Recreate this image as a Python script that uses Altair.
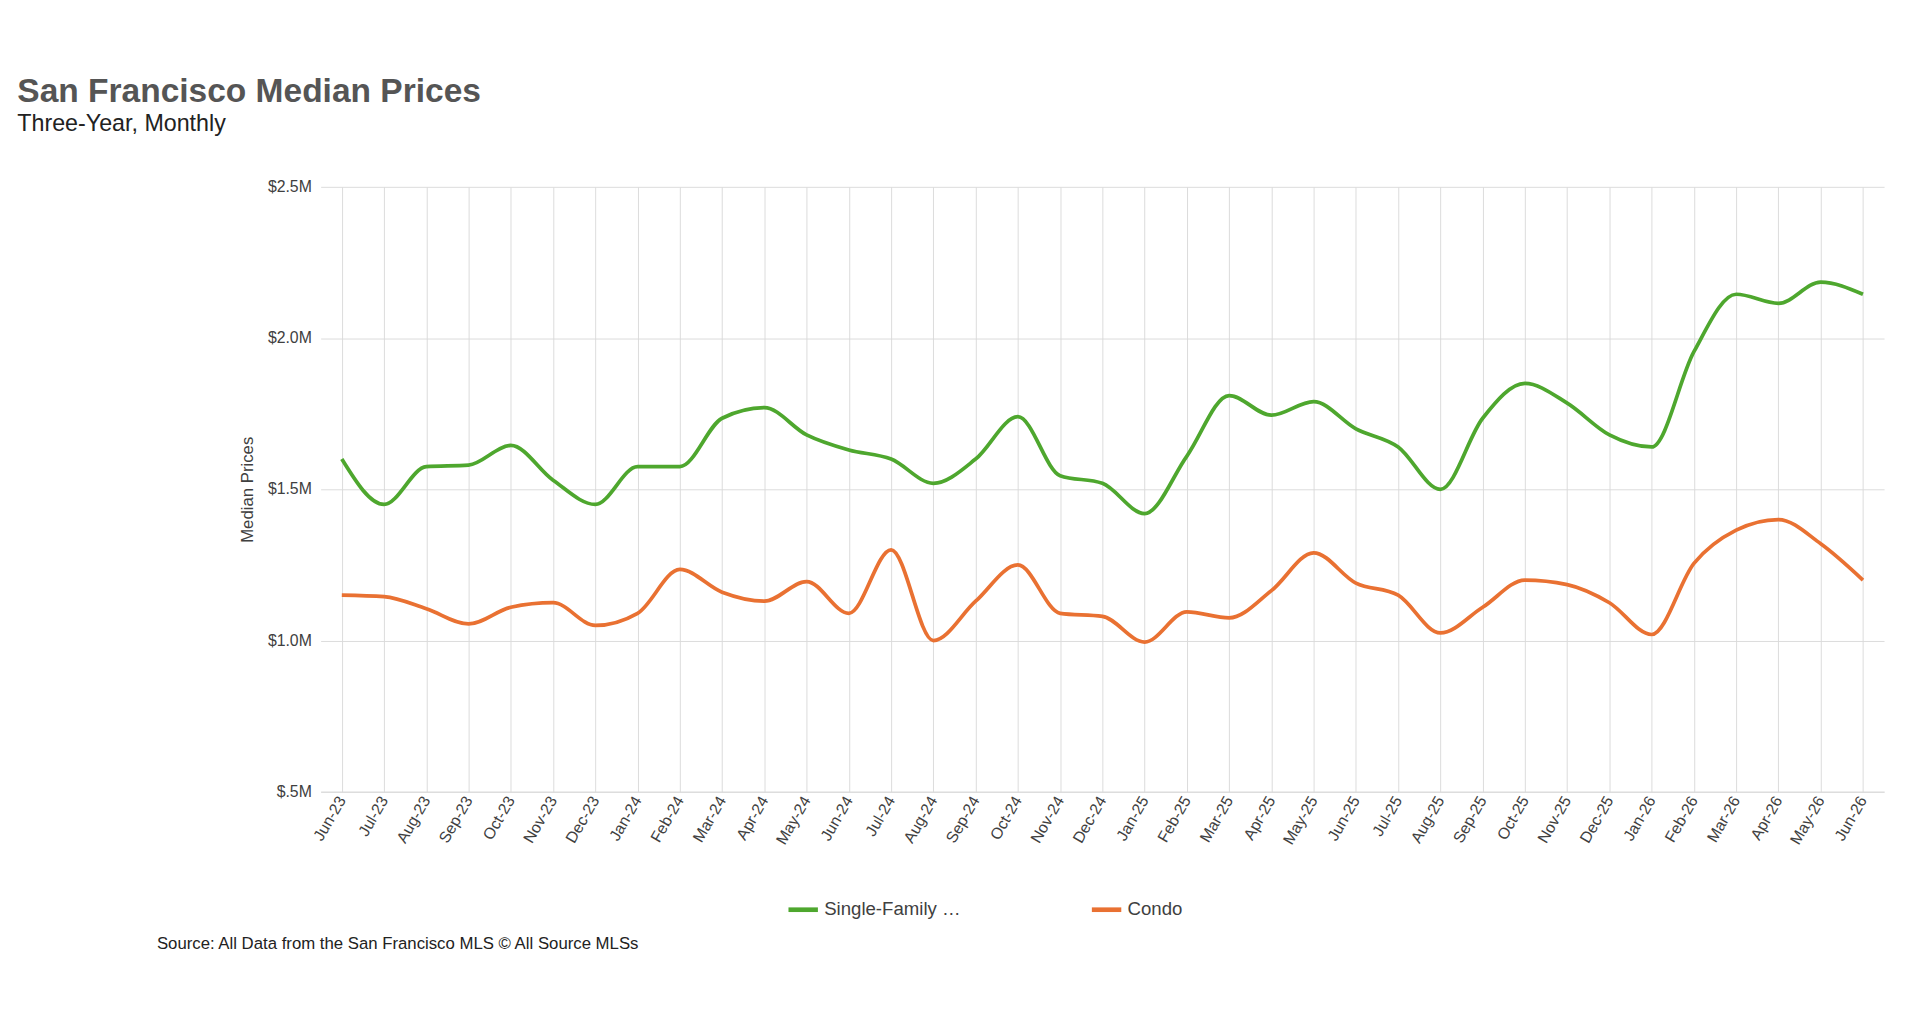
import pandas as pd
import altair as alt

# ── data (millions USD) ─────────────────────────────────────────────────────
MONTHS = [
    "Jun-23", "Jul-23", "Aug-23", "Sep-23", "Oct-23", "Nov-23", "Dec-23",
    "Jan-24", "Feb-24", "Mar-24", "Apr-24", "May-24", "Jun-24", "Jul-24",
    "Aug-24", "Sep-24", "Oct-24", "Nov-24", "Dec-24", "Jan-25", "Feb-25",
    "Mar-25", "Apr-25", "May-25", "Jun-25", "Jul-25", "Aug-25", "Sep-25",
    "Oct-25", "Nov-25", "Dec-25", "Jan-26", "Feb-26", "Mar-26", "Apr-26",
    "May-26", "Jun-26",
]
SFH = [
    1.60, 1.45, 1.575, 1.58, 1.645, 1.53, 1.45, 1.575, 1.575, 1.735, 1.77,
    1.68, 1.63, 1.60, 1.52, 1.60, 1.74, 1.545, 1.52, 1.42, 1.61, 1.81,
    1.745, 1.79, 1.70, 1.64, 1.50, 1.735, 1.85, 1.785, 1.68, 1.64, 1.955,
    2.145, 2.115, 2.185, 2.145,
]
CONDO = [
    1.15, 1.145, 1.105, 1.055, 1.11, 1.125, 1.05, 1.09, 1.235, 1.16, 1.13,
    1.195, 1.09, 1.30, 1.00, 1.13, 1.25, 1.09, 1.08, 0.995, 1.095, 1.075,
    1.165, 1.29, 1.19, 1.15, 1.025, 1.11, 1.20, 1.185, 1.125, 1.02, 1.255,
    1.365, 1.40, 1.32, 1.20,
]
SERIES = ["Single-Family Home", "Condo"]
COLORS = ["#4EA72E", "#E97132"]
TEXT = "#404040"
FONT = "Liberation Sans"

W, H = 1680, 650

df = pd.concat([
    pd.DataFrame({"month": MONTHS, "price": SFH, "type": SERIES[0]}),
    pd.DataFrame({"month": MONTHS, "price": CONDO, "type": SERIES[1]}),
])

lines = (
    alt.Chart(df)
    .mark_line(interpolate="monotone", strokeWidth=4)
    .encode(
        x=alt.X("month:O", sort=MONTHS, title=None,
                scale=alt.Scale(type="point", padding=0.5),
                axis=alt.Axis(labelAngle=-60, labelFontSize=17, labelColor=TEXT,
                              grid=True, gridColor="#d9d9d9", domainColor="#d9d9d9",
                              ticks=False, labelPadding=6)),
        y=alt.Y("price:Q", title="Median Prices",
                scale=alt.Scale(domain=[0.5, 2.5]),
                axis=alt.Axis(values=[0.5, 1.0, 1.5, 2.0, 2.5],
                              labelExpr="datum.value == 0.5 ? '$.5M' : '$' + format(datum.value, '.1f') + 'M'",
                              labelFontSize=17, labelColor=TEXT, titleFontSize=18,
                              titleColor=TEXT, titleFontWeight="normal",
                              gridColor="#d9d9d9", domain=False, ticks=False,
                              labelPadding=10, titlePadding=12)),
        color=alt.Color("type:N", sort=SERIES,
                        scale=alt.Scale(domain=SERIES, range=COLORS),
                        legend=alt.Legend(title=None, orient="none", direction="horizontal",
                                          legendX=500, legendY=H + 108,
                                          symbolType="stroke", symbolStrokeWidth=5,
                                          symbolSize=1000, labelFontSize=20,
                                          labelColor=TEXT, columnPadding=130)),
    )
)

source = (
    alt.Chart(pd.DataFrame({"t": ["Source: All Data from the San Francisco MLS © All Source MLSs"]}))
    .mark_text(align="left", baseline="middle", fontSize=18, color="#222222", font=FONT)
    .encode(x=alt.value(-176), y=alt.value(H + 164), text="t:N")
)

chart = (
    alt.layer(lines, source)
    .properties(
        width=W, height=H,
        padding={"left": 10, "top": 35, "right": 30, "bottom": 20},
        title=alt.TitleParams("San Francisco Median Prices", subtitle="Three-Year, Monthly",
                              anchor="start", fontSize=36, fontWeight="bold", color="#555555",
                              subtitleFontSize=25, subtitleColor="#222222",
                              offset=45, dx=-150, font=FONT, subtitleFont=FONT),
    )
    .configure(font=FONT, background="white")
    .configure_view(strokeWidth=0)
)

chart.save("out.html", embed_options={"renderer": "svg", "actions": False})
